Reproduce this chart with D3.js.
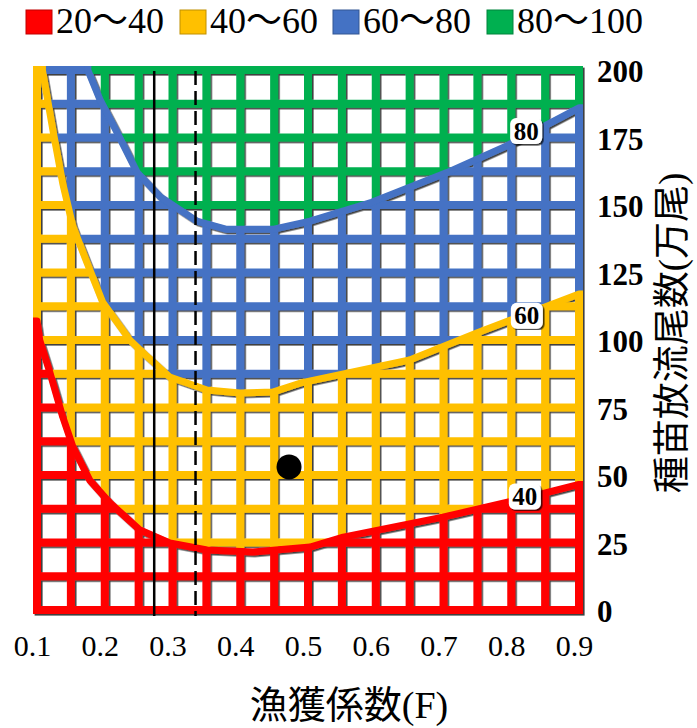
<!DOCTYPE html>
<html>
<head>
<meta charset="utf-8">
<script src="https://cdn.jsdelivr.net/npm/d3@7"></script>
<style>
  html, body { margin: 0; padding: 0; background: #fff; }
  svg { display: block; }
</style>
</head>
<body>
<svg id="chart" width="697" height="728"></svg>
<script>
// Fishing coefficient F (x) and stocking count in 10k fish (y) grid
const fGrid = [0.1, 0.15, 0.2, 0.25, 0.3, 0.35, 0.4, 0.45, 0.5, 0.55, 0.6, 0.65, 0.7, 0.75, 0.8, 0.85, 0.9];
const vGrid = [0, 12.5, 25, 37.5, 50, 62.5, 75, 87.5, 100, 112.5, 125, 137.5, 150, 162.5, 175, 187.5, 200];

const xTicks = [0.1, 0.2, 0.3, 0.4, 0.5, 0.6, 0.7, 0.8, 0.9];
const yTicks = [0, 25, 50, 75, 100, 125, 150, 175, 200];

// Band legend
const bandLabels = ["20～40", "40～60", "60～80", "80～100"];
const bandColors = ["#FF0000", "#FFC000", "#4472C4", "#00B050"];

// Contour lines [F, stocking] for levels 40, 60, 80
const contour40 = [[0.1, 107], [0.104, 100], [0.119, 88], [0.138, 71.5], [0.153, 60.4], [0.178, 48],
  [0.208, 39.6], [0.252, 29.6], [0.296, 24.8], [0.351, 22.2], [0.419, 21.5], [0.503, 23.3],
  [0.552, 27], [0.699, 34.4], [0.808, 40.7], [0.9, 46.5]];
const contour60 = [[0.108, 200], [0.124, 177], [0.138, 158], [0.153, 142], [0.174, 128.5], [0.197, 114],
  [0.237, 100], [0.262, 94], [0.296, 86.3], [0.351, 81.5], [0.4, 80.4], [0.448, 80.7], [0.488, 84],
  [0.65, 92.6], [0.749, 102.6], [0.9, 117]];
const contour80 = [[0.175, 200], [0.193, 189], [0.218, 177], [0.248, 162], [0.282, 153], [0.336, 144],
  [0.38, 141], [0.448, 141], [0.503, 144], [0.594, 151], [0.705, 162], [0.794, 172], [0.9, 186]];

const contourLevels = [40, 60, 80];
const contourSets = [contour40, contour60, contour80];
// label anchor of each contour level [F, stocking]
const contourLabelPos = [[0.82, 42], [0.823, 109], [0.822, 177.4]];

// reference F values (solid / dashed) and current state point
const refLines = [{ f: 0.273, dash: null }, { f: 0.334, dash: "14,6" }];
const currentPoint = { f: 0.472, v: 53 };

const svg = d3.select("#chart");
const x = d3.scaleLinear().domain([0.1, 0.9]).range([37, 579]);
const y = d3.scaleLinear().domain([0, 200]).range([610, 70]);

const half = 4;             // half width of the grid bars
const x0 = x(0.1) - half, x1 = x(0.9) + half;
const y0 = y(200) - half, y1 = y(0) + half;

const defs = svg.append("defs");
defs.append("clipPath").attr("id", "plotClip")
  .append("rect").attr("x", x0).attr("y", y0).attr("width", x1 - x0).attr("height", y1 - y0);

const mask = defs.append("mask").attr("id", "holes")
  .attr("maskUnits", "userSpaceOnUse")
  .attr("x", 0).attr("y", 0).attr("width", 697).attr("height", 728);
mask.append("rect").attr("x", 0).attr("y", 0).attr("width", 697).attr("height", 728).attr("fill", "#fff");
for (let i = 0; i < fGrid.length - 1; i++) {
  for (let j = 0; j < vGrid.length - 1; j++) {
    const cx0 = x(fGrid[i]) + half, cx1 = x(fGrid[i + 1]) - half;
    const cy0 = y(vGrid[j + 1]) + half, cy1 = y(vGrid[j]) - half;
    mask.append("rect").attr("x", cx0).attr("y", cy0)
      .attr("width", cx1 - cx0).attr("height", cy1 - cy0).attr("fill", "#000");
  }
}

const shadow = defs.append("filter").attr("id", "shadow")
  .attr("x", "-5%").attr("y", "-5%").attr("width", "110%").attr("height", "110%");
shadow.append("feDropShadow").attr("dx", 1.6).attr("dy", 1.6)
  .attr("stdDeviation", 0.6).attr("flood-color", "#000").attr("flood-opacity", 0.75);

// contour polyline in pixels, pushed past the plot edge at both ends
const pad = 12;
function extendPoint(p) {
  const px = x(p[0]), py = y(p[1]);
  if (p[0] <= 0.1) return [px - pad, py];
  if (p[0] >= 0.9) return [px + pad, py];
  if (p[1] >= 200) return [px, py - pad];
  return [px, py];
}
function linePixels(pts) {
  const inner = pts.map(p => [x(p[0]), y(p[1])]);
  return [extendPoint(pts[0]), ...inner, extendPoint(pts[pts.length - 1])];
}
function bandAbove(pts) {
  const line = linePixels(pts);
  return [...line, [x1 + pad, y0 - pad], [x0 - pad, y0 - pad]];
}

const chart = svg.append("g").attr("filter", "url(#shadow)");
const clipped = chart.append("g").attr("clip-path", "url(#plotClip)");
const fills = clipped.append("g").attr("mask", "url(#holes)");

fills.append("rect").attr("x", x0 - pad).attr("y", y0 - pad)
  .attr("width", x1 - x0 + 2 * pad).attr("height", y1 - y0 + 2 * pad)
  .attr("fill", bandColors[0]);
contourSets.forEach((pts, k) => {
  fills.append("path")
    .attr("d", d3.line()(bandAbove(pts)) + "Z")
    .attr("fill", bandColors[k + 1]);
});

// contour boundaries drawn in the colour of the band below
contourSets.forEach((pts, k) => {
  clipped.append("path")
    .attr("d", d3.line()(linePixels(pts)))
    .attr("fill", "none")
    .attr("stroke", bandColors[k])
    .attr("stroke-width", 7)
    .attr("stroke-linejoin", "round");
});

// reference lines
refLines.forEach(r => {
  svg.append("line")
    .attr("x1", x(r.f)).attr("x2", x(r.f))
    .attr("y1", y(200) + 1).attr("y2", y(0) + 6)
    .attr("stroke", "#000").attr("stroke-width", 2.5)
    .attr("stroke-dasharray", r.dash);
});

// current state
svg.append("circle").attr("cx", x(currentPoint.f)).attr("cy", y(currentPoint.v))
  .attr("r", 12.5).attr("fill", "#000");

// contour value labels
contourLevels.forEach((lv, k) => {
  const [f, v] = contourLabelPos[k];
  const g = svg.append("g").attr("transform", `translate(${x(f)},${y(v)})`);
  g.append("rect").attr("x", -16).attr("y", -13).attr("width", 32).attr("height", 26)
    .attr("rx", 6).attr("fill", "#fff")
    .attr("filter", "url(#shadow)");
  g.append("text").text(lv)
    .attr("text-anchor", "middle").attr("dy", "0.35em")
    .attr("font-family", "'Liberation Serif', serif")
    .attr("font-weight", "bold").attr("font-size", 25).attr("fill", "#000");
});

// axes
const serif = "'Liberation Serif', 'Noto Sans CJK JP', serif";
const xAxis = svg.append("g").attr("transform", "translate(-5,635)")
  .call(d3.axisBottom(x).tickValues(xTicks).tickFormat(d3.format(".1f")).tickSize(0).tickPadding(0));
xAxis.select(".domain").remove();
xAxis.selectAll("text").attr("font-family", serif).attr("font-size", 30).attr("fill", "#000");

const yAxis = svg.append("g").attr("transform", "translate(597,2)")
  .call(d3.axisRight(y).tickValues(yTicks).tickSize(0).tickPadding(0));
yAxis.select(".domain").remove();
yAxis.selectAll("text").attr("font-family", serif).attr("font-size", 31)
  .attr("font-weight", "bold").attr("fill", "#000");

// axis titles
svg.append("text").text("漁獲係数(F)")
  .attr("x", 349).attr("y", 718).attr("text-anchor", "middle")
  .attr("font-family", serif).attr("font-size", 38).attr("fill", "#000");
svg.append("text").text("種苗放流尾数(万尾)")
  .attr("transform", "translate(672,333) rotate(-90)")
  .attr("text-anchor", "middle").attr("dy", "0.35em")
  .attr("font-family", serif).attr("font-size", 37).attr("fill", "#000");

// legend
const legendX = [26, 180, 333, 487];
bandLabels.forEach((lab, k) => {
  svg.append("rect").attr("x", legendX[k]).attr("y", 10).attr("width", 26).attr("height", 24)
    .attr("fill", bandColors[k]).attr("stroke", d3.color(bandColors[k]).darker(0.8)).attr("stroke-width", 1);
  svg.append("text").text(lab)
    .attr("x", legendX[k] + 30).attr("y", 33)
    .attr("font-family", serif).attr("font-size", 36).attr("fill", "#000");
});
</script>
</body>
</html>
